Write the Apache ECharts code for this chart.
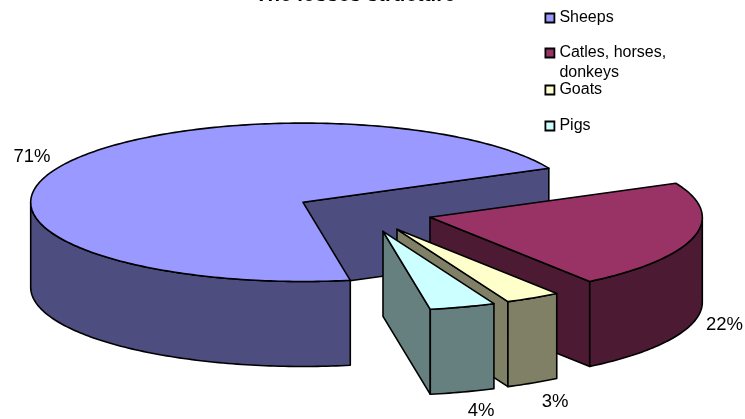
<!DOCTYPE html>
<html><head><meta charset="utf-8">
<style>html,body{margin:0;padding:0;background:#fff}#c{width:745px;height:419px}</style>
<script src="https://cdn.jsdelivr.net/npm/echarts@6/dist/echarts.min.js"></script>
</head><body><div id="c"></div>
<script>
const categories = ['Sheeps', 'Catles, horses,\ndonkeys', 'Goats', 'Pigs'];
const shares = [70.7, 22.1, 3.3, 3.9];

// styling and view settings
const topColors = ['#9999FF', '#993366', '#FFFFCC', '#CCFFFF'];
const sideColors = ['#4D4D80', '#4D1A33', '#808066', '#668080'];
const startDeg = 80, cx = 303, cy = 202.3, rx = 272.3, ry = 79.2, depth = 85;
const explodeX = [0, 127, 94, 80];
const explodeY = [0, 15, 27, 29];
const labelX = [32, 724.5, 555, 481];
const labelY = [157, 325, 402, 411];
const legendTop = [8, 23, 80, 116];

const total = shares.reduce((a, b) => a + b, 0);
const rad = d => d * Math.PI / 180;

function sliceRender(i) {
  return function () {
    const before = shares.slice(0, i).reduce((a, b) => a + b, 0);
    const sa = startDeg + before / total * 360;
    const ea = sa + shares[i] / total * 360;
    const ox = cx + explodeX[i], oy = cy + explodeY[i];
    const pt = (t, dz) => [ox + rx * Math.cos(rad(t)), oy + ry * Math.sin(rad(t)) + (dz || 0)];
    const style = c => ({ fill: c, stroke: '#000', lineWidth: 1.6, lineJoin: 'round' });
    const children = [];
    const quad = t => ({ type: 'polygon', silent: true,
      shape: { points: [[ox, oy], pt(t), pt(t, depth), [ox, oy + depth]] }, style: style(sideColors[i]) });
    // radial walls that face the viewer
    if (-Math.cos(rad(sa)) > 0) children.push(quad(sa));
    if (Math.cos(rad(ea)) > 0) children.push(quad(ea));
    // outer wall: the parts of the rim in the front half of the ellipse
    for (let k = -1; k <= 1; k++) {
      const a = Math.max(sa, k * 360), b = Math.min(ea, k * 360 + 180);
      if (b > a) {
        const top = [], bot = [];
        for (let t = a; t < b; t += 1) { top.push(pt(t)); bot.unshift(pt(t, depth)); }
        top.push(pt(b)); bot.unshift(pt(b, depth));
        children.push({ type: 'polygon', silent: true, shape: { points: top.concat(bot) }, style: style(sideColors[i]) });
      }
    }
    // top face
    const face = [[ox, oy]];
    for (let t = sa; t < ea; t += 1) face.push(pt(t));
    face.push(pt(ea));
    children.push({ type: 'polygon', silent: true, shape: { points: face }, style: style(topColors[i]) });
    // data label
    children.push({ type: 'text', silent: true, style: {
      x: labelX[i], y: labelY[i], text: Math.round(shares[i]) + '%',
      fill: '#000', font: '18.5px "Liberation Sans", Arial, sans-serif', align: 'center', verticalAlign: 'middle' } });
    return { type: 'group', children };
  };
}

const series = categories.map((name, i) => ({
  type: 'custom', name, coordinateSystem: 'none', data: [[shares[i]]],
  itemStyle: { color: topColors[i] }, renderItem: sliceRender(i), animation: false, silent: true, clip: false
}));

const legends = categories.map((name, i) => {
  const multi = name.indexOf('\n') >= 0;
  return {
    data: [name], orient: 'vertical', left: 544.5, top: legendTop[i], padding: 0,
    itemWidth: 9, itemHeight: 9, icon: 'rect', selectedMode: false,
    // a leading empty line keeps the first text line level with the marker
    formatter: n => (multi ? '\n' : '') + n,
    itemStyle: { borderColor: '#000', borderWidth: 1.8 },
    textStyle: { fontFamily: '"Liberation Sans", Arial, sans-serif', fontSize: 16, color: '#000', lineHeight: 20 }
  };
});

const chart = echarts.init(document.getElementById('c'));
chart.setOption({
  backgroundColor: '#fff', animation: false,
  title: { text: 'The losses structure', left: 255, top: -15, padding: 0,
    textStyle: { fontFamily: '"Liberation Sans", Arial, sans-serif', fontWeight: 'bold', fontSize: 20.5, color: '#000' } },
  legend: legends,
  series
});
</script></body></html>
